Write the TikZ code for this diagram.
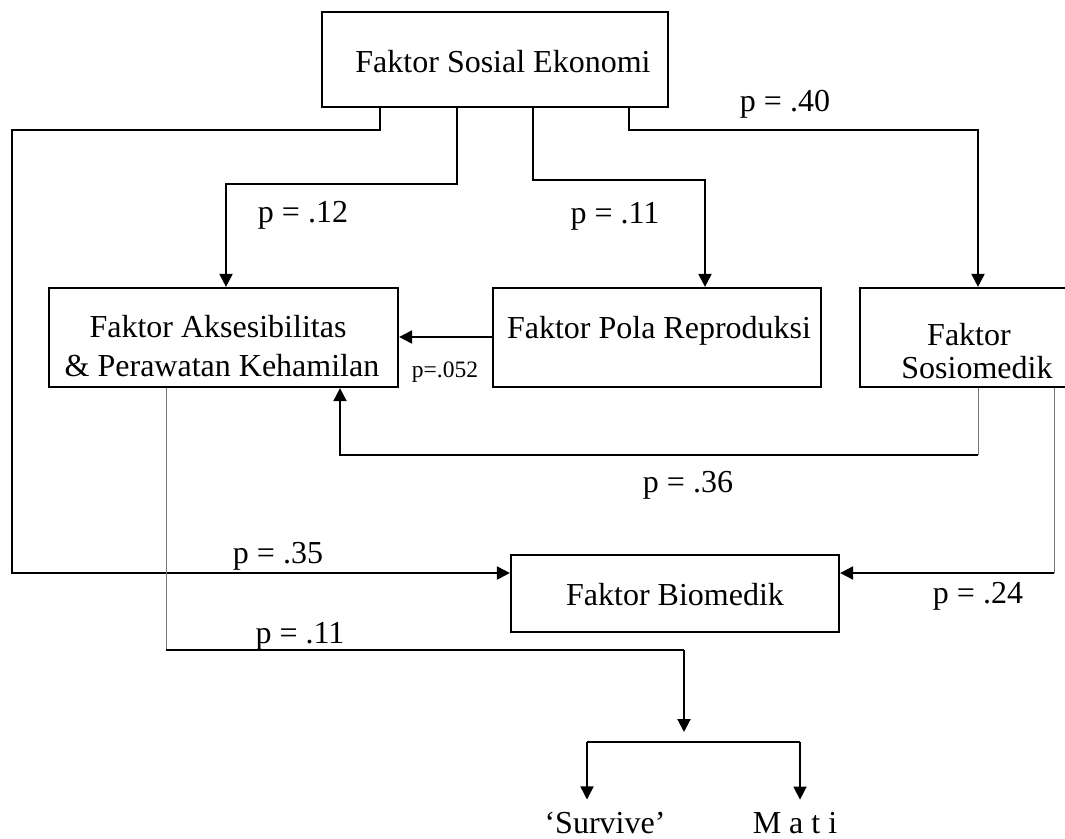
\documentclass[tikz,border=0pt]{standalone}
\usepackage{fontspec}
\setmainfont{Liberation Serif}
\usetikzlibrary{arrows.meta}
\begin{document}
\begin{tikzpicture}[x=1pt,y=-1pt,
  box/.style={draw, line width=2.2pt, inner sep=0pt},
  lbl/.style={font=\fontsize{32}{38}\selectfont, inner sep=0pt, anchor=base},
  smalllbl/.style={font=\fontsize{23.5}{28}\selectfont, inner sep=0pt, anchor=base},
  link/.style={line width=2pt},
  faint/.style={line width=0.9pt, black!55},
  arr/.style={link, -{Triangle[width=13pt,length=13pt]}}]
\useasboundingbox (0,0) rectangle (1065,838);

% boxes and their captions
\node[box, minimum width=346pt, minimum height=95pt] (sosek) at (495,59.5) {};
\node[lbl] (sosekT) at (503,72) {Faktor Sosial Ekonomi};

\node[box, minimum width=349pt, minimum height=99pt] (aks) at (223.5,337.5) {};
\node[lbl] (aksT1) at (218,337) {Faktor Aksesibilitas};
\node[lbl] (aksT2) at (222,376) {\& Perawatan Kehamilan};

\node[box, minimum width=328pt, minimum height=99pt] (pola) at (657,337.5) {};
\node[lbl] (polaT) at (659,338) {Faktor Pola Reproduksi};

% this box runs on past the right margin
\node[box, minimum width=212pt, minimum height=99pt] (sosmed) at (966,337.5) {};
\node[lbl] (sosmedT1) at (969,345) {Faktor};
\node[lbl] (sosmedT2) at (977,378) {Sosiomedik};

\node[box, minimum width=328pt, minimum height=77pt] (bio) at (675,593.5) {};
\node[lbl] (bioT) at (675,605) {Faktor Biomedik};

\node[lbl, inner ysep=12pt] (survive) at (605,833) {‘Survive’};
\node[lbl, inner ysep=12pt] (mati) at (795,833) {M a t i};

% corner points of the connectors
\coordinate (k1) at (380,130);  \coordinate (k2) at (12,130);  \coordinate (k3) at (12,573);
\coordinate (m1) at (457,184);  \coordinate (m2) at (226,184);
\coordinate (n1) at (533,180);  \coordinate (n2) at (705,180);
\coordinate (q1) at (629,130);  \coordinate (q2) at (978,130);
\coordinate (r)  at (0,337);
\coordinate (s1) at (978,455);  \coordinate (s2) at (340,455);
\coordinate (t1) at (1054,573);
\coordinate (u1) at (166,650);  \coordinate (u2) at (684,650);  \coordinate (u3) at (684,732);
\coordinate (v1) at (587,742);  \coordinate (v2) at (800,742);

% socio-economic factor to the others
\draw[arr] (sosek.south -| k1) -- (k1) -- (k2) -- (k3) -- (bio.west |- k3);
\draw[arr] (sosek.south -| m1) -- (m1) -- (m2) -- (aks.north -| m2);
\draw[arr] (sosek.south -| n1) -- (n1) -- (n2) -- (pola.north -| n2);
\draw[arr] (sosek.south -| q1) -- (q1) -- (q2) -- (sosmed.north -| q2);

% reproduction pattern to accessibility
\draw[arr] (pola.west |- r) -- (aks.east |- r);

% sociomedical factor to accessibility and to biomedical factor
\draw[faint] (sosmed.south -| s1) -- (s1);
\draw[arr] (s1) -- (s2) -- (aks.south -| s2);
\draw[faint] (sosmed.south -| t1) -- (t1);
\draw[arr] (t1) -- (bio.east |- t1);

% accessibility to outcome
\draw[faint] (aks.south -| u1) -- (u1);
\draw[link] (u1) -- (u2);
\draw[arr] (u2) -- (u3);
\draw[line width=1.5pt] (v1) -- (v2);
\draw[arr, line width=1.5pt] (v1) -- (v1 |- survive.north);
\draw[arr, line width=1.5pt] (v2) -- (v2 |- mati.north);

% path coefficients
\node[lbl] (p40) at (785,111) {p = .40};
\node[lbl] (p12) at (303,222) {p = .12};
\node[lbl] (p11a) at (615,223) {p = .11};
\node[smalllbl] (p052) at (445,377) {p=.052};
\node[lbl] (p36) at (688,492) {p = .36};
\node[lbl] (p35) at (278,563) {p = .35};
\node[lbl] (p24) at (978,603) {p = .24};
\node[lbl] (p11b) at (300,643) {p = .11};
\end{tikzpicture}
\end{document}
